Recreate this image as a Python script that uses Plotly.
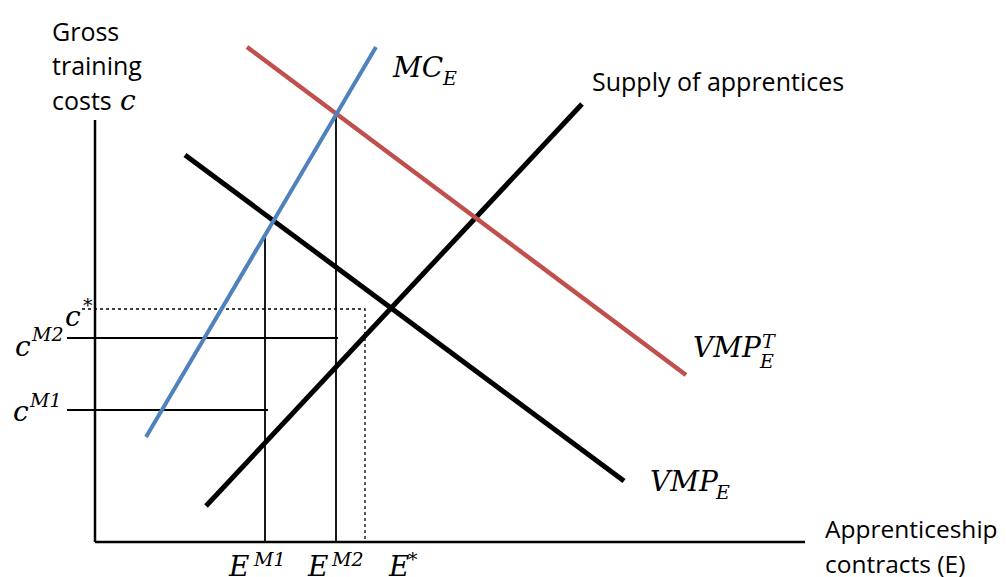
import plotly.graph_objects as go

# ---- data (diagram units: E along x, c along y; origin at axes corner) ----
axis_x_end = 710
axis_y_end = 422

mc_E = [51, 281]
mc_c = [105, 495]

vmpT_E = [152, 591]
vmpT_c = [495, 167]

vmp_E = [90, 529]
vmp_c = [387, 61]

supply_E = [111, 487]
supply_c = [36, 438]

E_M1, c_on_mc_M1 = 170, 307
E_M2, c_on_mc_M2 = 241, 427
E_star, c_star = 270, 233
c_M2, c_M2_end = 204, 243
c_M1, c_M1_end = 132, 173
tick_start = -28
dot_start = -13

MATH = "DejaVu Serif"
TEXT = "Open Sans"

fig = go.Figure()

def line(x, y, color, width, dash="solid"):
    fig.add_trace(go.Scatter(x=x, y=y, mode="lines",
                             line=dict(color=color, width=width, dash=dash),
                             hoverinfo="skip", showlegend=False))

# axes
line([0, 0], [0, axis_y_end], "black", 2.5)
line([0, axis_x_end], [0, 0], "black", 2.5)

# guide lines
line([E_M1, E_M1], [0, c_on_mc_M1], "black", 1.8)
line([E_M2, E_M2], [0, c_on_mc_M2], "black", 1.8)
line([tick_start, c_M2_end], [c_M2, c_M2], "black", 1.8)
line([tick_start, c_M1_end], [c_M1, c_M1], "black", 1.8)
line([dot_start, E_star, E_star], [c_star, c_star, 0], "black", 1.3, "dot")

# curves
line(vmp_E, vmp_c, "black", 5)
line(supply_E, supply_c, "black", 5)
line(vmpT_E, vmpT_c, "#c0504d", 4.5)
line(mc_E, mc_c, "#4f81bd", 4)

ann = []
def text(px, py, s, family, size, italic=False, anchor="left"):
    ann.append(dict(x=px - 95, y=542 - py, text=s, showarrow=False,
                    xanchor=anchor, yanchor="middle",
                    font=dict(family=family, size=size, color="black",
                              style="italic" if italic else "normal")))

# y-axis title
text(50, 31, "Gross", TEXT, 25)
text(50, 65, "training", TEXT, 25)
text(50, 100, "costs", TEXT, 25)
text(118, 100, "c", MATH, 28, True)

# x-axis title
text(823, 528, "Apprenticeship", TEXT, 24.5)
text(823, 563, "contracts (E)", TEXT, 24.5)

text(590, 81, "Supply of apprentices", TEXT, 25)

# curve labels
text(390, 67, "MC", MATH, 28, True)
text(440, 78, "E", MATH, 19, True)

text(691, 347, "VMP", MATH, 28, True)
text(760, 341, "T", MATH, 19, True)
text(757, 361, "E", MATH, 19, True)

text(648, 481, "VMP", MATH, 28, True)
text(713, 492, "E", MATH, 19, True)

# c-axis labels
text(63, 316, "c", MATH, 28, True)
text(81, 305, "*", MATH, 19, True)
text(13, 346, "c", MATH, 28, True)
text(29, 334, "M2", MATH, 19, True)
text(11, 411, "c", MATH, 28, True)
text(27, 400, "M1", MATH, 19, True)

# E-axis labels
text(226, 566, "E", MATH, 28, True)
text(251, 559, "M1", MATH, 19, True)
text(305, 566, "E", MATH, 28, True)
text(329, 559, "M2", MATH, 19, True)
text(386, 566, "E", MATH, 28, True)
text(406, 559, "*", MATH, 19, True)

fig.update_layout(
    width=1006, height=577,
    margin=dict(l=0, r=0, t=0, b=0),
    paper_bgcolor="white", plot_bgcolor="white",
    xaxis=dict(range=[-95, 911], visible=False, fixedrange=True),
    yaxis=dict(range=[-35, 542], visible=False, fixedrange=True),
    annotations=ann,
    showlegend=False,
)

fig.write_html("out.html", config={"displayModeBar": False},
               post_script="document.body.style.margin='0';document.body.style.overflow='hidden';")
